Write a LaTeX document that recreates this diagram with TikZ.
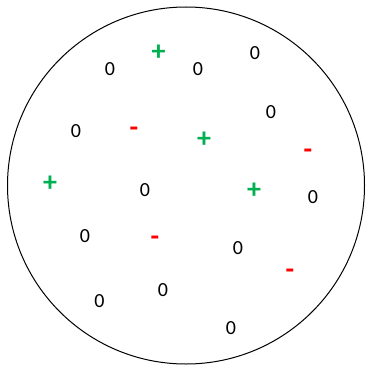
\documentclass[tikz,border=0pt]{standalone}
\usepackage{fontspec}
\setmainfont{Carlito}
\usepackage{tikz}
\usetikzlibrary{positioning}

\definecolor{plusgreen}{RGB}{0,176,80}
\definecolor{minusred}{RGB}{255,0,0}

\begin{document}
\begin{tikzpicture}[
    x=1pt, y=-1pt,
    charge/.style={inner sep=0pt, text depth=0pt},
    zero/.style={charge, text height=12.7pt, text=black, font=\fontsize{20}{24}\selectfont},
    poscharge/.style={charge, text height=18.6pt, text=plusgreen, font=\fontsize{28}{32}\selectfont\bfseries},
    negcharge/.style={charge, text height=17.6pt, text=minusred, font=\fontsize{28}{32}\selectfont\bfseries},
    rim/.style={draw=black, line width=1pt}
  ]
    \useasboundingbox (0,0) rectangle (365,366);
    \node[circle, rim, minimum size=357pt, inner sep=0pt] (cell) at (186,185.5) {};
    % top row
    \node[zero] (z1) at (110,69) {0};
    \node[poscharge] (p1) at (158.5,51.5) {+};
    \node[zero] (z2) at (198,69) {0};
    \node[zero] (z3) at (255,53) {0};
    % upper middle
    \node[zero] (z4) at (76,131) {0};
    \node[negcharge] (n1) at (134,127.5) {-};
    \node[poscharge] (p2) at (204,138) {+};
    \node[zero] (z5) at (271,112) {0};
    \node[negcharge] (n2) at (308,149.5) {-};
    % middle
    \node[poscharge] (p3) at (50,182) {+};
    \node[zero] (z6) at (145,190.5) {0};
    \node[poscharge] (p4) at (254,189) {+};
    \node[zero] (z7) at (313,197) {0};
    % lower middle
    \node[zero] (z8) at (85,236) {0};
    \node[negcharge] (n3) at (155,237) {-};
    \node[zero] (z9) at (238,248) {0};
    \node[negcharge] (n4) at (290,269.5) {-};
    % bottom
    \node[zero] (z10) at (99.5,301) {0};
    \node[zero] (z11) at (163,290) {0};
    \node[zero] (z12) at (231,328) {0};
\end{tikzpicture}
\end{document}
